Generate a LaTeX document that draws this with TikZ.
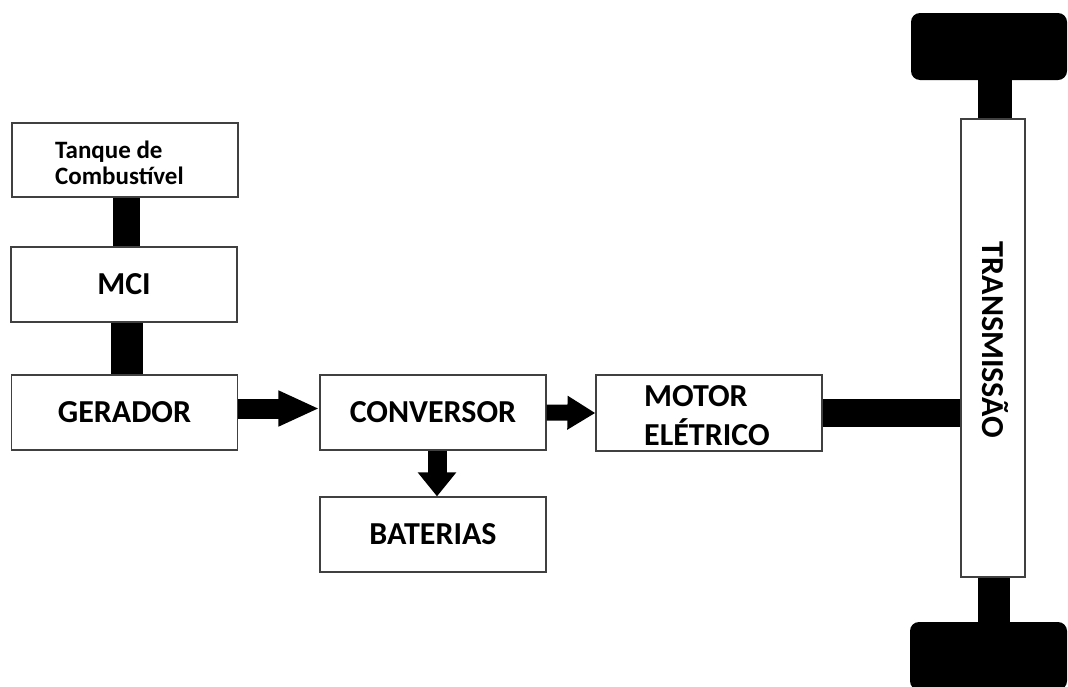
\documentclass[tikz,border=0pt]{standalone}
\usepackage{fontspec}
\setmainfont{Carlito}
\usetikzlibrary{arrows.meta}
\begin{document}
\begin{tikzpicture}[x=1pt,y=-1pt,
  box/.style={draw=black!75, line width=1.2pt, fill=white, minimum width=226pt, minimum height=75pt, inner sep=0pt, align=left, font=\bfseries\fontsize{32}{39}\selectfont},
  wheel/.style={fill=black, rounded corners=9pt, inner sep=0pt},
  bigarrow/.style={draw=black, line width=#1},
  lbl/.style={inner sep=0pt, font=\bfseries\fontsize{32}{39}\selectfont}]
\useasboundingbox (0,0) rectangle (1068,686);
% wheels
\node[wheel, minimum width=156pt, minimum height=67pt] (wtop) at (989,46.5) {};
\node[wheel, minimum width=157pt, minimum height=68pt] (wbot) at (988.5,656) {};
% boxes
\node[box, minimum height=74pt] (tanque) at (125,160) {};
\node[lbl, align=left, font=\bfseries\fontsize{25}{26}\selectfont, anchor=west] (tanquetxt) at (55,163) {Tanque de\\Combustível};
\node[box] (mci) at (124,284.5) {MCI};
\node[box] (gerador) at (124.5,412.5) {GERADOR};
\node[box] (conversor) at (433,412.5) {CONVERSOR};
\node[box] (baterias) at (433,534.5) {BATERIAS};
\node[box, minimum height=76pt] (motor) at (709,413) {};
\node[lbl, align=left, anchor=west] (motortxt) at (644,416) {MOTOR\\ELÉTRICO};
\node[box, minimum width=64pt, minimum height=458pt] (trans) at (993,348) {};
\node[lbl, rotate=-90] (transtxt) at (995,340) {TRANSMISSÃO};
% thick bars
\fill ([xshift=-12pt]tanque.south) rectangle ([xshift=16pt]mci.north);
\fill ([xshift=-13.5pt]mci.south) rectangle ([xshift=18.5pt]gerador.north);
\fill ([yshift=14pt]motor.east) rectangle ([yshift=-14pt]trans.west |- motor.east);
\fill ([xshift=-15pt]trans.north) rectangle ([xshift=19pt]trans.north |- wtop.south);
\fill ([xshift=-15pt]trans.south) rectangle ([xshift=17pt]trans.south |- wbot.north);
% arrows
\draw[bigarrow=20pt, -{Triangle[length=41pt,width=33pt]}] ([yshift=4pt]gerador.east) -- ([yshift=4pt]conversor.west);
\draw[bigarrow=16pt, -{Triangle[length=28pt,width=32pt]}] (conversor.east) -- (motor.west);
\draw[bigarrow=19pt, -{Triangle[length=24pt,width=37pt]}] ([xshift=4pt]conversor.south) -- ([xshift=4pt]baterias.north);
\end{tikzpicture}
\end{document}
